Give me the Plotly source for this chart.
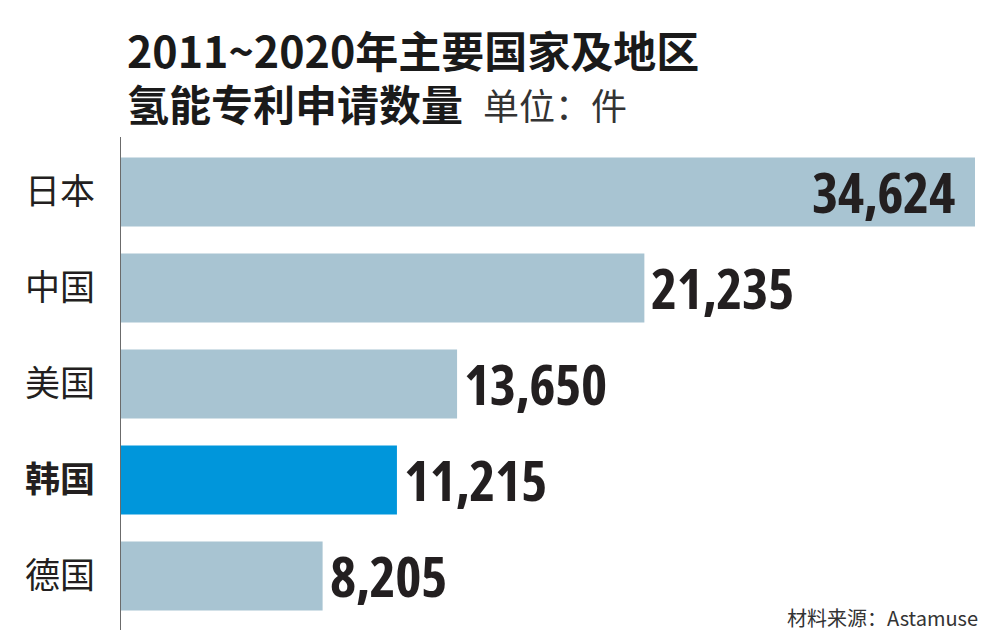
import plotly.graph_objects as go

categories = ["日本", "中国", "美国", "韩国", "德国"]
values = [34624, 21235, 13650, 11215, 8205]
value_labels = ["34,624", "21,235", "13,650", "11,215", "8,205"]
highlight = "韩国"

title_line1 = "2011~2020年主要国家及地区"
title_line2 = "氢能专利申请数量"
unit_text = "单位：件"
source_text = "材料来源：Astamuse"

base_color = "#a8c4d2"
hi_color = "#0096db"
cjk = "Noto Sans CJK SC"
num_font = "Open Sans"

colors = [hi_color if c == highlight else base_color for c in categories]
ticktext = [f"<b>{c}</b>" if c == highlight else c for c in categories]

# plot area in pixels: x 120..975, y 144..624
def py(pixel_y):
    return (624 - pixel_y) / 480

def px(pixel_x):
    return (pixel_x - 120) / 855

fig = go.Figure()
fig.add_trace(go.Bar(
    x=values, y=categories, orientation="h",
    marker=dict(color=colors, line=dict(width=0)),
    width=0.72, hoverinfo="skip",
))

for i, (c, v, t) in enumerate(zip(categories, values, value_labels)):
    inside = (i == 0)
    fig.add_annotation(
        x=v, y=c, xref="x", yref="y",
        text=f"<span style='font-stretch:75%;letter-spacing:-0.5px'><b>{t}</b></span>",
        showarrow=False,
        xanchor="right" if inside else "left",
        xshift=-18 if inside else 5, yshift=1,
        font=dict(family=num_font, size=56, color="#231f20"),
    )

# title
fig.add_annotation(
    xref="paper", yref="paper", x=px(125), y=py(49),
    xanchor="left", yanchor="middle", showarrow=False,
    text=f"<b>{title_line1}</b>",
    font=dict(family=cjk, size=43, color="#1a1a1a"),
)
fig.add_annotation(
    xref="paper", yref="paper", x=px(125), y=py(103),
    xanchor="left", yanchor="middle", showarrow=False,
    text=f"<b>{title_line2}</b>",
    font=dict(family=cjk, size=42, color="#1a1a1a"),
)
fig.add_annotation(
    xref="paper", yref="paper", x=px(481), y=py(104),
    xanchor="left", yanchor="middle", showarrow=False,
    text=unit_text,
    font=dict(family=cjk, size=36, color="#333333"),
)
# source
fig.add_annotation(
    xref="paper", yref="paper", x=px(980), y=py(634),
    xanchor="right", yanchor="bottom", showarrow=False,
    text=source_text,
    font=dict(family=cjk, size=20, color="#333333"),
)

# vertical axis line
fig.add_shape(type="line", xref="x", yref="paper", x0=0, x1=0,
              y0=py(630), y1=py(137),
              line=dict(color="#6b6b6b", width=2))

fig.update_layout(
    width=1000, height=644,
    margin=dict(l=120, r=25, t=144, b=20, autoexpand=False),
    paper_bgcolor="white", plot_bgcolor="white",
    showlegend=False, bargap=0.28,
    xaxis=dict(range=[0, 34624], visible=False, fixedrange=True, automargin=False),
    yaxis=dict(autorange="reversed", tickvals=categories, ticktext=ticktext,
               showgrid=False, showline=False, ticks="", zeroline=False,
               ticklabelstandoff=24, automargin=False, fixedrange=True,
               tickfont=dict(family=cjk, size=35, color="#231f20")),
)

fig.write_html("out.html", config={"displayModeBar": False},
               post_script="document.body.style.margin='0';")
